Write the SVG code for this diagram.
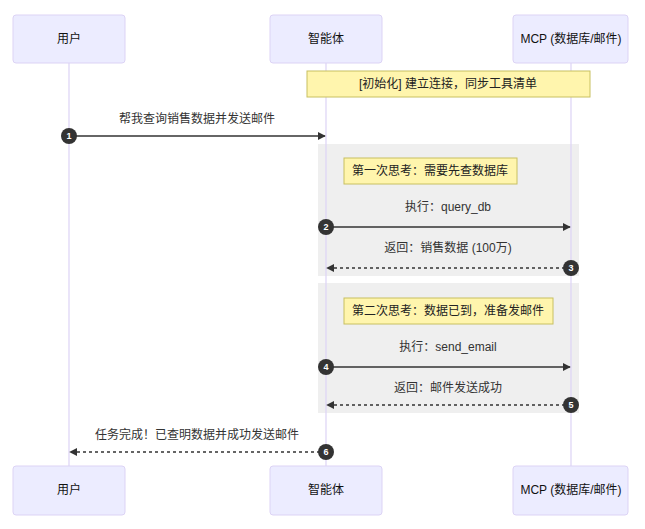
<svg xmlns="http://www.w3.org/2000/svg" width="645" height="529" viewBox="0 0 645 529">
<style>
text{font-family:"Liberation Sans","Noto Sans CJK SC",sans-serif;}
.actor{fill:#ececff;stroke:#dcd3f5;stroke-width:1;}
.atext{font-size:12px;fill:#111;text-anchor:middle;dominant-baseline:central;}
.life{stroke:#dcd3f5;stroke-width:1.2;}
.loop{fill:#efefef;}
.note{fill:#fff5ad;stroke:#c8c060;stroke-width:1;}
.ntext{font-size:12px;fill:#222;text-anchor:middle;dominant-baseline:central;}
.mtext{font-size:12px;fill:#333;text-anchor:middle;dominant-baseline:central;}
.msg{stroke:#333;stroke-width:1.5;fill:none;}
.dash{stroke-dasharray:3,3;}
.seq{fill:#333;}
.stext{font-size:9px;font-weight:bold;fill:#fff;text-anchor:middle;dominant-baseline:central;}
</style>
<defs>
<marker id="ah" viewBox="0 0 10 10" refX="9" refY="5" markerWidth="8" markerHeight="8" markerUnits="userSpaceOnUse" orient="auto">
<path d="M0,0 L10,5 L0,10 z" fill="#333"/>
</marker>
</defs>
<g id="loops">
<rect class="loop" x="318" y="144" width="261" height="132"/>
<rect class="loop" x="318" y="283" width="261" height="130"/>
</g>
<g id="lifelines">
<line class="life" x1="69" y1="63" x2="69" y2="466"/>
<line class="life" x1="326" y1="63" x2="326" y2="466"/>
<line class="life" x1="571" y1="63" x2="571" y2="466"/>
</g>
<g id="actor-user-top"><rect class="actor" x="13" y="15" width="112" height="48" rx="3"/><text class="atext" x="69" y="39">用户</text></g>
<g id="actor-agent-top"><rect class="actor" x="270" y="15" width="112" height="48" rx="3"/><text class="atext" x="326" y="39">智能体</text></g>
<g id="actor-mcp-top"><rect class="actor" x="513" y="15" width="115" height="48" rx="3"/><text class="atext" x="571" y="39">MCP (数据库/邮件)</text></g>
<g id="actor-user-bottom"><rect class="actor" x="13" y="466" width="112" height="49" rx="3"/><text class="atext" x="69" y="490">用户</text></g>
<g id="actor-agent-bottom"><rect class="actor" x="270" y="466" width="112" height="49" rx="3"/><text class="atext" x="326" y="490">智能体</text></g>
<g id="actor-mcp-bottom"><rect class="actor" x="513" y="466" width="115" height="49" rx="3"/><text class="atext" x="571" y="490">MCP (数据库/邮件)</text></g>
<g id="note-init"><rect class="note" x="307" y="71" width="283" height="26"/><text class="ntext" x="448" y="84">[初始化] 建立连接，同步工具清单</text></g>
<g id="note-think1"><rect class="note" x="344" y="158" width="173" height="26"/><text class="ntext" x="430" y="171">第一次思考：需要先查数据库</text></g>
<g id="note-think2"><rect class="note" x="344" y="298" width="209" height="26"/><text class="ntext" x="448" y="311">第二次思考：数据已到，准备发邮件</text></g>
<g id="connectors">
<text class="mtext" x="197" y="119">帮我查询销售数据并发送邮件</text>
<line class="msg" x1="69" y1="136" x2="325" y2="136" marker-end="url(#ah)"/>
<text class="mtext" x="448" y="207">执行：query_db</text>
<line class="msg" x1="326" y1="227" x2="570" y2="227" marker-end="url(#ah)"/>
<text class="mtext" x="448" y="248">返回：销售数据 (100万)</text>
<line class="msg dash" x1="571" y1="268" x2="327" y2="268" marker-end="url(#ah)"/>
<text class="mtext" x="448" y="347">执行：send_email</text>
<line class="msg" x1="326" y1="367" x2="570" y2="367" marker-end="url(#ah)"/>
<text class="mtext" x="448" y="388">返回：邮件发送成功</text>
<line class="msg dash" x1="571" y1="405" x2="327" y2="405" marker-end="url(#ah)"/>
<text class="mtext" x="197" y="435">任务完成！已查明数据并成功发送邮件</text>
<line class="msg dash" x1="326" y1="452" x2="70" y2="452" marker-end="url(#ah)"/>
</g>
<g id="seqnums">
<circle class="seq" cx="69" cy="136" r="8"/><text class="stext" x="69" y="136">1</text>
<circle class="seq" cx="326" cy="227" r="8"/><text class="stext" x="326" y="227">2</text>
<circle class="seq" cx="571" cy="268" r="8"/><text class="stext" x="571" y="268">3</text>
<circle class="seq" cx="326" cy="367" r="8"/><text class="stext" x="326" y="367">4</text>
<circle class="seq" cx="571" cy="405" r="8"/><text class="stext" x="571" y="405">5</text>
<circle class="seq" cx="326" cy="452" r="8"/><text class="stext" x="326" y="452">6</text>
</g>
</svg>
